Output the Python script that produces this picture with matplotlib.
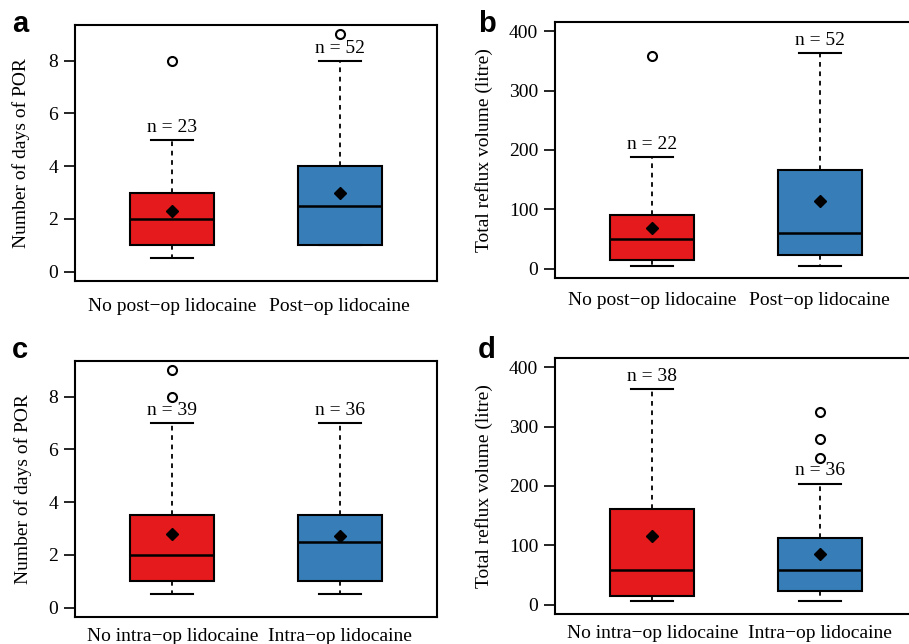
import matplotlib.pyplot as plt

plt.rcParams['font.family'] = ['Liberation Serif', 'DejaVu Serif']

red = '#E41A1C'
blue = '#377EB8'

post_labels = ['No post\u2212op lidocaine', 'Post\u2212op lidocaine']
intra_labels = ['No intra\u2212op lidocaine', 'Intra\u2212op lidocaine']

# panel a: days of POR, post-op lidocaine
a_lo = [0.5, 1]
a_q1 = [1, 1]
a_med = [2, 2.5]
a_q3 = [3, 4]
a_hi = [5, 8]
a_mean = [2.3, 3.0]
a_out = [[8], [9]]
a_n = [23, 52]

# panel b: reflux volume, post-op lidocaine
b_lo = [4.5, 4.5]
b_q1 = [14, 22.5]
b_med = [50, 60]
b_q3 = [90, 167]
b_hi = [188, 364]
b_mean = [68, 114]
b_out = [[358], []]
b_n = [22, 52]

# panel c: days of POR, intra-op lidocaine
c_lo = [0.5, 0.5]
c_q1 = [1, 1]
c_med = [2, 2.5]
c_q3 = [3.5, 3.5]
c_hi = [7, 7]
c_mean = [2.8, 2.72]
c_out = [[8, 9], []]
c_n = [39, 36]

# panel d: reflux volume, intra-op lidocaine
d_lo = [5.6, 5.6]
d_q1 = [14.6, 23]
d_med = [59, 58.5]
d_q3 = [161.5, 113]
d_hi = [363, 204]
d_mean = [115, 86]
d_out = [[], [247, 280, 325]]
d_n = [38, 36]

FS = 14


def draw_panel(ax, lo, q1, med, q3, hi, mean, out, n, labels, ylim, yticks,
               ylabel, letter, label_x, xpad, letter_pos):
    stats = []
    for i in range(len(labels)):
        stats.append(dict(whislo=lo[i], q1=q1[i], med=med[i], q3=q3[i],
                          whishi=hi[i], mean=mean[i], fliers=out[i]))
    bp = ax.bxp(stats, positions=[1, 2], widths=0.5, patch_artist=True,
                showmeans=True,
                boxprops=dict(edgecolor='black', linewidth=1.5),
                medianprops=dict(color='black', linewidth=1.8),
                whiskerprops=dict(color='black', linewidth=1.3,
                                  linestyle=(0, (2.6, 2.6))),
                capprops=dict(color='black', linewidth=1.5),
                meanprops=dict(marker='D', markerfacecolor='black',
                               markeredgecolor='black', markersize=6),
                flierprops=dict(marker='o', markerfacecolor='none',
                                markeredgecolor='black', markersize=6.5,
                                markeredgewidth=1.5))
    for patch, col in zip(bp['boxes'], [red, blue]):
        patch.set_facecolor(col)
    for i in range(len(labels)):
        ax.annotate(f'n = {n[i]}', xy=(i + 1, hi[i]), xytext=(0, 3),
                    textcoords='offset points', ha='center', va='bottom',
                    fontsize=FS)
    ax.set_xlim(0.42, 2.58)
    ax.set_ylim(*ylim)
    ax.set_yticks(yticks)
    ax.set_xticks([1, 2])
    ax.set_xticklabels(labels, fontsize=FS)
    ax.tick_params(axis='x', length=0, pad=xpad)
    ax.tick_params(axis='y', length=8, width=1.2, labelsize=FS, pad=4)
    ax.set_ylabel(ylabel, fontsize=FS)
    ax.yaxis.set_label_coords(label_x, 0.5)
    for sp in ax.spines.values():
        sp.set_linewidth(1.5)
    ax.text(letter_pos[0], letter_pos[1], letter,
            transform=ax.transAxes, fontsize=21, fontweight='bold',
            family='Liberation Sans', ha='left', va='baseline')


def main():
    fig = plt.figure(figsize=(9.09, 6.44), dpi=100)
    W, H = 909, 644
    w = 362 / W
    ax_a = fig.add_axes([75 / W, (H - 281) / H, w, 256 / H])
    ax_b = fig.add_axes([555 / W, (H - 278) / H, w, 256 / H])
    ax_c = fig.add_axes([75 / W, (H - 617) / H, w, 256 / H])
    ax_d = fig.add_axes([555 / W, (H - 614) / H, w, 256 / H])

    por = 'Number of days of POR'
    vol = 'Total reflux volume (litre)'
    draw_panel(ax_a, a_lo, a_q1, a_med, a_q3, a_hi, a_mean, a_out, a_n,
               post_labels, (-0.36, 9.36), [0, 2, 4, 6, 8], por, 'a',
               -0.125, 12, (-0.174, 0.973))
    draw_panel(ax_b, b_lo, b_q1, b_med, b_q3, b_hi, b_mean, b_out, b_n,
               post_labels, (-16, 416), [0, 100, 200, 300, 400], vol, 'b',
               -0.171, 10, (-0.213, 0.961))
    draw_panel(ax_c, c_lo, c_q1, c_med, c_q3, c_hi, c_mean, c_out, c_n,
               intra_labels, (-0.36, 9.36), [0, 2, 4, 6, 8], por, 'c',
               -0.12, 8, (-0.174, 1.012))
    draw_panel(ax_d, d_lo, d_q1, d_med, d_q3, d_hi, d_mean, d_out, d_n,
               intra_labels, (-16, 416), [0, 100, 200, 300, 400], vol, 'd',
               -0.171, 8, (-0.213, 1.0))

    fig.savefig('out.png', dpi=100)


if __name__ == '__main__':
    main()
